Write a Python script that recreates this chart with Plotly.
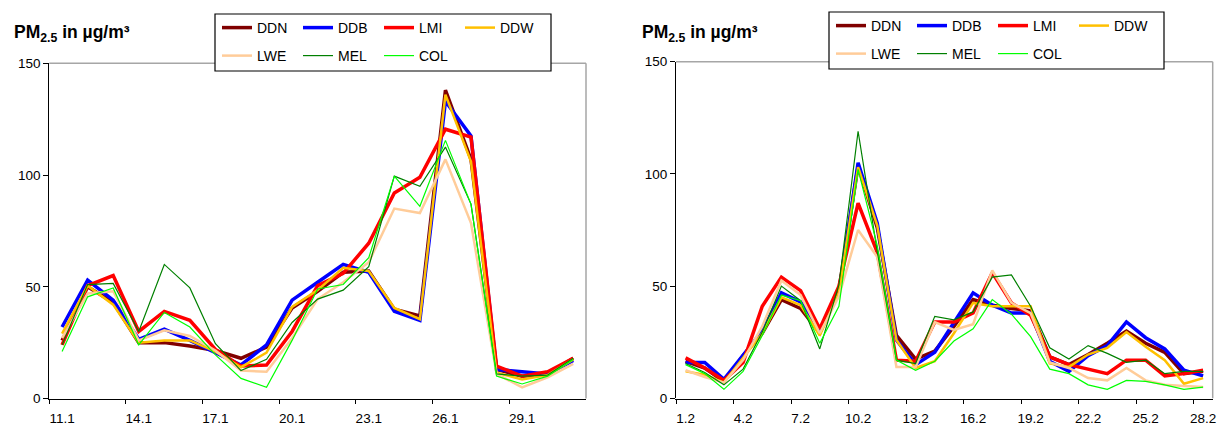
import plotly.graph_objects as go

# ---------------- data ----------------
dates_jan = ["11.1", "12.1", "13.1", "14.1", "15.1", "16.1", "17.1", "18.1", "19.1", "20.1",
             "21.1", "22.1", "23.1", "24.1", "25.1", "26.1", "27.1", "28.1", "29.1", "30.1", "31.1"]
dates_feb = ["1.2", "2.2", "3.2", "4.2", "5.2", "6.2", "7.2", "8.2", "9.2", "10.2",
             "11.2", "12.2", "13.2", "14.2", "15.2", "16.2", "17.2", "18.2", "19.2", "20.2",
             "21.2", "22.2", "23.2", "24.2", "25.2", "26.2", "27.2", "28.2"]

series_names = ["DDN", "DDB", "LMI", "DDW", "LWE", "MEL", "COL"]

jan_DDN = [26, 50, 43, 25, 25, 23.5, 21.5, 18, 23, 40.5, 48, 56.5, 57, 40, 37, 138, 107, 13, 10, 11, 18]
jan_DDB = [32, 53, 44, 26.5, 31, 26, 20.5, 15, 24, 44, 52, 60, 56.5, 39, 35, 133, 117.5, 13, 12, 11, 17]
jan_LMI = [24, 50.5, 55, 30, 39, 35, 22, 14.5, 15, 30, 50.5, 56, 69.5, 92, 99, 120.5, 117, 14.5, 10, 12, 18]
jan_DDW = [29, 50.5, 42, 25, 26, 26, 21, 14, 20.5, 41, 48.5, 58.5, 57, 40.5, 35.5, 136, 106, 11.5, 8.5, 10.5, 17.5]
jan_LWE = [27, 47, 48, 26, 30.5, 28, 21.5, 12.5, 12, 27, 44.5, 52, 61, 85, 83, 107, 78.5, 11, 5, 9.5, 15.5]
jan_MEL = [24, 51, 51.5, 30, 60, 49.5, 24.5, 12.5, 17.5, 34, 44.5, 48.5, 59, 99.5, 95, 112.5, 87, 11, 10, 10.5, 18]
jan_COL = [21, 45.5, 49.5, 24, 38.5, 32, 19.5, 9, 5, 26, 49, 51, 63, 99.5, 86, 115.5, 87, 10, 6.5, 10, 17.5]

feb_DDN = [16.5, 13.5, 7.5, 19, 29, 44, 40, 29, 48.5, 103.5, 76, 28, 17.5, 21, 32, 44, 41.5, 40, 39, 18.5,
           15, 19.5, 24.5, 30, 24.5, 20.5, 11, 12]
feb_DDB = [16, 16, 8.5, 19, 30, 47, 43, 30.5, 47, 105, 78, 26, 15, 20.5, 33.5, 47, 41.5, 38, 38, 16.5,
           12, 19, 23.5, 34, 27, 22, 12.5, 10]
feb_LMI = [18, 13.5, 8, 16, 41, 54, 48, 31, 50, 87, 65, 17, 16.5, 34, 34, 38, 56, 42.5, 37, 18.5,
           15, 13, 11, 17, 17, 10, 11, 12.5]
feb_DDW = [12, 10.5, 7, 18, 29, 45, 41.5, 28, 47, 103, 77, 26, 13.5, 16.5, 29, 42.5, 41, 41, 41, 15.5,
           14, 19.5, 22.5, 29.5, 23, 17, 6.5, 9]
feb_LWE = [12.5, 9.5, 7, 17, 32, 52.5, 46, 29, 45.5, 75, 63, 14, 14, 34, 30.5, 33, 57, 42.5, 38, 16,
           13.5, 9, 8, 13.5, 8, 6, 5.5, 5]
feb_MEL = [15.5, 11.5, 6, 13, 29.5, 50, 43.5, 22, 50.5, 119, 65.5, 17, 15.5, 36.5, 35, 38.5, 54, 55, 41, 22.5,
           17.5, 23.5, 20, 16, 17, 11, 12, 12]
feb_COL = [15, 11, 4, 12, 28, 46, 43.5, 24.5, 41, 102, 68, 17, 12.5, 16.5, 25.5, 31, 44, 37.5, 27.5, 13,
           11, 6, 4, 8, 7.5, 6, 4, 5]

jan_values = [jan_DDN, jan_DDB, jan_LMI, jan_DDW, jan_LWE, jan_MEL, jan_COL]
feb_values = [feb_DDN, feb_DDB, feb_LMI, feb_DDW, feb_LWE, feb_MEL, feb_COL]

y_ticks = [0, 50, 100, 150]
title_text = "<b>PM<sub>2.5</sub> in µg/m³</b>"

# ---------------- styles ----------------
colors = ["#800000", "#0000FF", "#FF0000", "#FFC000", "#FFCC99", "#008000", "#00FF00"]
widths = [3.5, 3.5, 3.5, 2.5, 2.5, 1.2, 1.2]
FONT = "Liberation Sans, Arial, sans-serif"
W, H = 1219, 430

def px_x(v):
    return v / W

def px_y(v):
    return 1 - v / H

fig = go.Figure()

panels = [
    dict(x=dates_jan, vals=jan_values, xa="x", ya="y", legs=("legend", "legend2")),
    dict(x=dates_feb, vals=feb_values, xa="x2", ya="y2", legs=("legend3", "legend4")),
]
for p in panels:
    for i, name in enumerate(series_names):
        fig.add_trace(go.Scatter(
            x=p["x"], y=p["vals"][i], name=name, mode="lines",
            line=dict(color=colors[i], width=widths[i]),
            xaxis=p["xa"], yaxis=p["ya"],
            legend=p["legs"][0] if i < 4 else p["legs"][1],
            hoverinfo="skip",
        ))

def xaxis_cfg(cats, domain):
    return dict(
        domain=domain, type="category", range=[-0.5, len(cats) - 0.5],
        tickmode="linear", tick0=0, dtick=3, tickson="boundaries", tickangle=0,
        ticks="outside", ticklen=4, tickcolor="#000000", tickwidth=1,
        ticklabelstandoff=7,
        showline=True, linecolor="#000000", linewidth=1,
        showgrid=False, zeroline=False, fixedrange=True,
        tickfont=dict(family=FONT, size=13.5, color="#000000"),
        automargin=False,
    )

def yaxis_cfg(domain, anchor):
    return dict(
        domain=domain, range=[0, 150], tickmode="array", tickvals=y_ticks,
        ticks="outside", ticklen=5, tickcolor="#000000", tickwidth=1,
        showline=True, linecolor="#000000", linewidth=1,
        showgrid=False, zeroline=False, fixedrange=True, anchor=anchor,
        tickfont=dict(family=FONT, size=13.5, color="#000000"),
        automargin=False,
    )

xl = [px_x(49.3), px_x(586)]
xr = [px_x(676), px_x(1212.7)]
yl = [px_y(398.5), px_y(63.3)]
yr = [px_y(398.3), px_y(61.7)]

shapes = []
# gray top/right frame
for xref, yref in (("x domain", "y domain"), ("x2 domain", "y2 domain")):
    shapes.append(dict(type="line", xref=xref, yref=yref, x0=0, x1=1, y0=1, y1=1,
                       line=dict(color="#A6A6A6", width=1.5), layer="below"))
    shapes.append(dict(type="line", xref=xref, yref=yref, x0=1, x1=1, y0=0, y1=1,
                       line=dict(color="#A6A6A6", width=1.5), layer="below"))
# legend boxes
for (x0, x1, y0, y1) in ((215, 551, 14, 71), (829, 1164, 12, 69)):
    shapes.append(dict(type="rect", xref="paper", yref="paper",
                       x0=px_x(x0), x1=px_x(x1), y0=px_y(y1), y1=px_y(y0),
                       fillcolor="#FFFFFF", line=dict(color="#000000", width=1.2), layer="above"))

def legend_cfg(xpx, ypx):
    return dict(
        orientation="h", x=px_x(xpx), xanchor="left", y=px_y(ypx), yanchor="middle",
        xref="paper", yref="paper",
        font=dict(family=FONT, size=14, color="#000000"),
        bgcolor="rgba(0,0,0,0)", borderwidth=0,
        entrywidth=36, entrywidthmode="pixels", itemwidth=30,
        itemclick=False, itemdoubleclick=False, tracegroupgap=0,
    )

annotations = [
    dict(text=title_text, x=px_x(12), y=px_y(33), xref="paper", yref="paper",
         xanchor="left", yanchor="middle", showarrow=False,
         font=dict(family=FONT, size=17.5, color="#000000")),
    dict(text=title_text, x=px_x(640), y=px_y(33), xref="paper", yref="paper",
         xanchor="left", yanchor="middle", showarrow=False,
         font=dict(family=FONT, size=17.5, color="#000000")),
]

fig.update_layout(
    width=W, height=H,
    margin=dict(l=0, r=0, t=0, b=0),
    paper_bgcolor="#FFFFFF", plot_bgcolor="#FFFFFF",
    xaxis=xaxis_cfg(dates_jan, xl), yaxis=yaxis_cfg(yl, "x"),
    xaxis2=xaxis_cfg(dates_feb, xr), yaxis2=yaxis_cfg(yr, "x2"),
    legend=legend_cfg(217, 28), legend2=legend_cfg(217, 56),
    legend3=legend_cfg(831, 26), legend4=legend_cfg(831, 54),
    shapes=shapes, annotations=annotations,
    showlegend=True,
)

fig.write_html("out.html", config={"displayModeBar": False},
               post_script="document.body.style.margin='0px';document.body.style.overflow='hidden';")
